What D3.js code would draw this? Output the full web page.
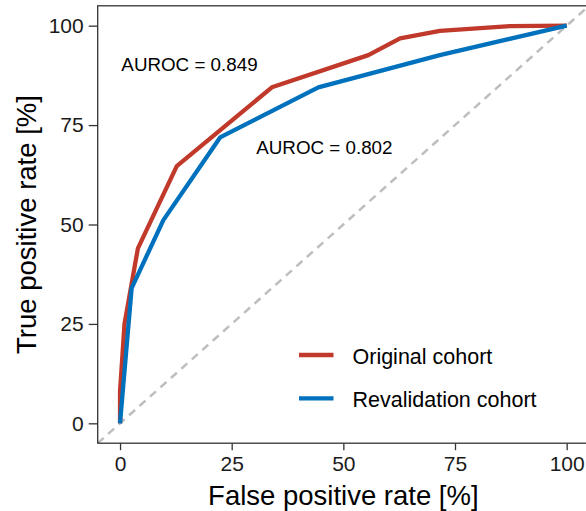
<!DOCTYPE html>
<html>
<head>
<meta charset="utf-8">
<script src="https://cdn.jsdelivr.net/npm/d3@7"></script>
<style>
  body { margin: 0; background: #fff; }
  svg { display: block; font-family: "Liberation Sans", Arial, sans-serif; }
</style>
</head>
<body>
<svg id="chart" width="586" height="511"></svg>
<script>
// ROC curve points (FPR %, TPR %)
var originalFpr = [0, 0, 1, 4, 12.7, 34, 55.6, 62.7, 71.6, 87.3, 100];
var originalTpr = [0, 8, 25, 44, 64.7, 84.5, 92.6, 96.8, 98.7, 99.9, 100];
var revalFpr = [0, 2.6, 9.7, 22.4, 44.4, 71.6, 100];
var revalTpr = [0, 34, 51.1, 71.9, 84.5, 92.6, 100];

var seriesNames = ["Original cohort", "Revalidation cohort"];
var seriesColors = ["#c0392b", "#0072bd"];
var aurocLabels = ["AUROC = 0.849", "AUROC = 0.802"];
var aurocPos = [[0.3, 88.5], [30.5, 67.8]]; // data coords of label left/baseline
var tickValues = [0, 25, 50, 75, 100];

var svg = d3.select("#chart");

// panel geometry (ggplot-style 5% expansion)
var panelL = 97.7, panelR = 589, panelT = 5.8, panelB = 443.2;

var x = d3.scaleLinear().domain([-5, 105]).range([panelL, panelR]);
var y = d3.scaleLinear().domain([-5, 105]).range([panelB, panelT]);

svg.append("defs").append("clipPath").attr("id", "panel")
    .append("rect")
    .attr("x", panelL).attr("y", panelT)
    .attr("width", panelR - panelL).attr("height", panelB - panelT);

var plot = svg.append("g").attr("clip-path", "url(#panel)");

// chance line
plot.append("line")
    .attr("x1", x(-5)).attr("y1", y(-5))
    .attr("x2", x(105)).attr("y2", y(105))
    .attr("stroke", "#bebebe")
    .attr("stroke-width", 2.5)
    .attr("stroke-dasharray", "8,6");

var line = d3.line()
    .x(function(d) { return x(d[0]); })
    .y(function(d) { return y(d[1]); });

var series = [
    d3.zip(originalFpr, originalTpr),
    d3.zip(revalFpr, revalTpr)
];

series.forEach(function(pts, i) {
    plot.append("path")
        .datum(pts)
        .attr("d", line)
        .attr("fill", "none")
        .attr("stroke", seriesColors[i])
        .attr("stroke-width", 4.3)
        .attr("stroke-linejoin", "round");
});

// AUROC labels
aurocLabels.forEach(function(t, i) {
    svg.append("text")
        .attr("x", x(aurocPos[i][0]))
        .attr("y", y(aurocPos[i][1]))
        .attr("font-size", 18.8)
        .attr("fill", "#000")
        .text(t);
});

// legend
var legend = svg.append("g");
seriesNames.forEach(function(name, i) {
    var ly = 355 + i * 43.3;
    legend.append("line")
        .attr("x1", 299).attr("x2", 333.5)
        .attr("y1", ly).attr("y2", ly)
        .attr("stroke", seriesColors[i])
        .attr("stroke-width", 4.3);
    legend.append("text")
        .attr("x", 352.5).attr("y", ly + 9)
        .attr("font-size", 21.5)
        .attr("fill", "#000")
        .text(name);
});

// panel border
svg.append("rect")
    .attr("x", panelL).attr("y", panelT)
    .attr("width", panelR - panelL).attr("height", panelB - panelT)
    .attr("fill", "none")
    .attr("stroke", "#333")
    .attr("stroke-width", 1.3);

// axes
var xAxis = d3.axisBottom(x).tickValues(tickValues).tickSize(7).tickPadding(6);
var yAxis = d3.axisLeft(y).tickValues(tickValues).tickSize(9).tickPadding(5);

var gx = svg.append("g").attr("transform", "translate(0," + panelB + ")").call(xAxis);
var gy = svg.append("g").attr("transform", "translate(" + panelL + ",0)").call(yAxis);

[gx, gy].forEach(function(g) {
    g.select(".domain").remove();
    g.selectAll(".tick line").attr("stroke", "#333").attr("stroke-width", 1.3);
    g.selectAll(".tick text")
        .attr("fill", "#1a1a1a")
        .attr("font-size", 21)
        .attr("font-family", "Liberation Sans, Arial, sans-serif");
});

// axis titles
svg.append("text")
    .attr("x", (panelL + panelR) / 2)
    .attr("y", 505)
    .attr("text-anchor", "middle")
    .attr("font-size", 27.5)
    .attr("fill", "#000")
    .text("False positive rate [%]");

svg.append("text")
    .attr("transform", "translate(36," + (panelT + panelB) / 2 + ") rotate(-90)")
    .attr("text-anchor", "middle")
    .attr("font-size", 27.5)
    .attr("fill", "#000")
    .text("True positive rate [%]");
</script>
</body>
</html>
